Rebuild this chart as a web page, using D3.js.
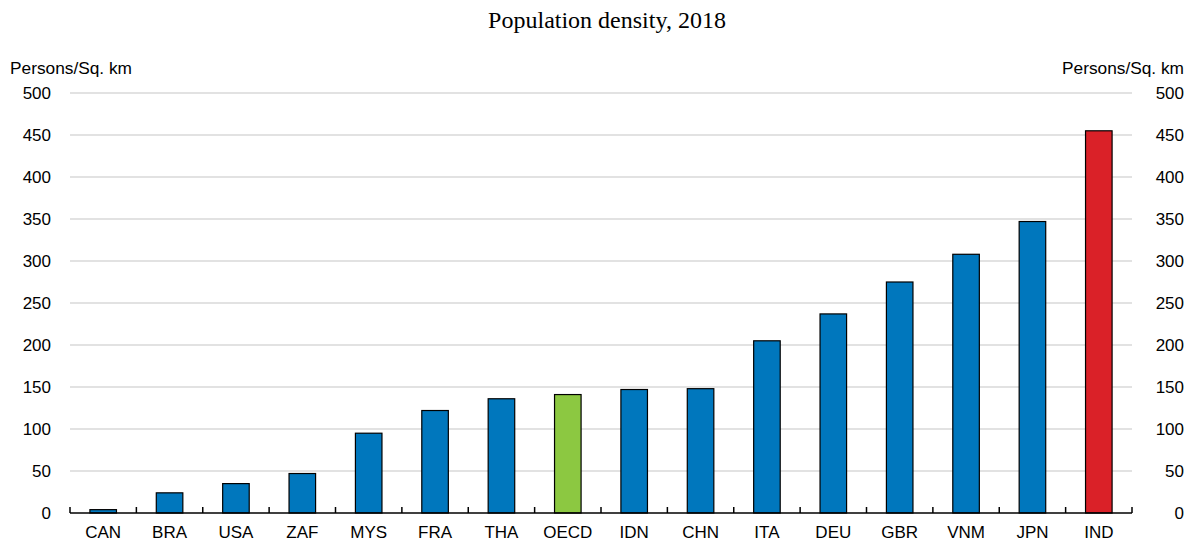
<!DOCTYPE html>
<html><head><meta charset="utf-8">
<script src="https://cdn.jsdelivr.net/npm/d3@7"></script>
<style>body{margin:0;background:#fff}svg{display:block}</style>
</head><body>
<svg id="c" width="1194" height="542"></svg>
<script>
const categories = ["CAN","BRA","USA","ZAF","MYS","FRA","THA","OECD","IDN","CHN","ITA","DEU","GBR","VNM","JPN","IND"];
const values = [4,24,35,47,95,122,136,141,147,148,205,237,275,308,347,455];
const barColors = ["#0077bd","#0077bd","#0077bd","#0077bd","#0077bd","#0077bd","#0077bd","#8cc841","#0077bd","#0077bd","#0077bd","#0077bd","#0077bd","#0077bd","#0077bd","#da2128"];
const yTicks = [0,50,100,150,200,250,300,350,400,450,500];
const title = "Population density, 2018";
const unit = "Persons/Sq. km";

const svg = d3.select("#c");
const L = 70, R = 1132, T = 93, B = 513;
const x = d3.scaleBand().domain(categories).range([L, R]).paddingInner(0.6).paddingOuter(0.3);
const xb = d3.scaleBand().domain(categories).range([L, R]);
const y = d3.scaleLinear().domain([0, 500]).range([B, T]);

svg.append("text").attr("x", 607).attr("y", 28).attr("text-anchor","middle")
  .attr("font-family","Liberation Serif, Times New Roman, serif").attr("font-size",24).attr("fill","#000").text(title);

svg.append("g").selectAll("line").data(yTicks.filter(d=>d>0)).join("line")
  .attr("x1", L).attr("x2", R).attr("y1", d=>y(d)).attr("y2", d=>y(d))
  .attr("stroke","#d9d9d9").attr("stroke-width",1.5);

const font = "Liberation Sans, Arial, sans-serif";
svg.append("g").selectAll("text").data(yTicks).join("text")
  .attr("x", 51).attr("y", d=>y(d)).attr("dy","0.35em").attr("text-anchor","end")
  .attr("font-family",font).attr("font-size",17).text(d=>d);
svg.append("g").selectAll("text").data(yTicks).join("text")
  .attr("x", 1184).attr("y", d=>y(d)).attr("dy","0.35em").attr("text-anchor","end")
  .attr("font-family",font).attr("font-size",17).text(d=>d);

svg.append("text").attr("x",10).attr("y",74).attr("font-family",font).attr("font-size",17.3).text(unit);
svg.append("text").attr("x",1184).attr("y",74).attr("text-anchor","end").attr("font-family",font).attr("font-size",17.3).text(unit);

svg.append("g").selectAll("rect").data(categories).join("rect")
  .attr("x", d=>x(d)).attr("width", x.bandwidth())
  .attr("y", (d,i)=>y(values[i])).attr("height", (d,i)=>y(0)-y(values[i]))
  .attr("fill", (d,i)=>barColors[i]).attr("stroke","#000").attr("stroke-width",1.2);

const ax = svg.append("g");
ax.append("line").attr("x1",L).attr("x2",R).attr("y1",B).attr("y2",B).attr("stroke","#000").attr("stroke-width",1.5);
const bounds = categories.map(c=>xb(c)).concat([R]);
ax.selectAll("line.t").data(bounds).join("line").attr("class","t")
  .attr("x1",d=>d).attr("x2",d=>d).attr("y1",B).attr("y2",B-6).attr("stroke","#000").attr("stroke-width",1.5);
ax.selectAll("text").data(categories).join("text")
  .attr("x", d=>xb(d)+xb.bandwidth()/2).attr("y", 538).attr("text-anchor","middle")
  .attr("font-family",font).attr("font-size",17).text(d=>d);
</script>
</body></html>
